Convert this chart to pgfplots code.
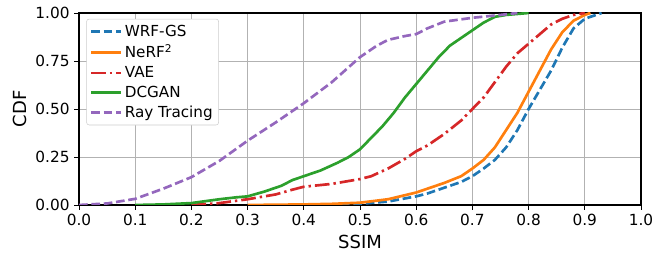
\documentclass[border=0pt]{standalone}
\usepackage{fontspec}
\setmainfont{DejaVu Sans}
\usepackage{pgfplots}
\pgfplotsset{compat=1.18}
\definecolor{tblue}{HTML}{1F77B4}
\definecolor{torange}{HTML}{FF7F0E}
\definecolor{tred}{HTML}{D62728}
\definecolor{tgreen}{HTML}{2CA02C}
\definecolor{tpurple}{HTML}{9467BD}
\pgfplotsset{every axis plot post/.append style={line width=2pt}}
\begin{document}
\begin{tikzpicture}
\begin{axis}[
  scale only axis, width=421.5pt, height=144pt,
  xmin=0, xmax=1, ymin=0, ymax=1,
  xtick={0,0.1,...,1.0}, ytick={0,0.25,0.5,0.75,1},
  xticklabel style={/pgf/number format/.cd, fixed, fixed zerofill, precision=1},
  yticklabel style={/pgf/number format/.cd, fixed, fixed zerofill, precision=2},
  /pgf/number format/assume math mode=true,
  tick label style={font=\fontsize{11.5}{13}\selectfont},
  label style={font=\fontsize{13.5}{15}\selectfont},
  xlabel={SSIM}, ylabel={CDF},
  tick align=outside, xtick pos=left, ytick pos=left,
  major tick length=3.5pt,
  every tick/.style={black, line width=0.6pt},
  axis line style={black, line width=0.8pt},
  grid=major, grid style={color=black!30, line width=0.6pt},
  legend style={at={(rel axis cs:0.013,0.97)}, anchor=north west, draw=black!20, rounded corners=2pt, font=\fontsize{11.4}{13}\selectfont, row sep=0.8pt, inner sep=2.5pt, fill=white},
  legend cell align=left,
  legend image code/.code={\draw[#1, line width=2pt] (0cm,0cm) -- (0.78cm,0cm);},
]
\addplot[draw=tblue, dash pattern=on 6.5pt off 2.8pt] coordinates {
(0.40,0) (0.45,0.002) (0.5,0.006) (0.55,0.018) (0.6,0.045) (0.62,0.06) (0.65,0.09) (0.68,0.12) (0.7,0.15) (0.72,0.19) (0.74,0.235) (0.76,0.30) (0.78,0.39) (0.8,0.50) (0.82,0.60) (0.84,0.70) (0.86,0.82) (0.88,0.92) (0.90,0.97) (0.92,0.99) (0.93,1.0)};
\addlegendentry{WRF-GS}
\addplot[draw=torange] coordinates {
(0.3,0) (0.4,0.003) (0.45,0.006) (0.5,0.012) (0.55,0.03) (0.6,0.065) (0.62,0.085) (0.65,0.115) (0.68,0.15) (0.7,0.19) (0.72,0.235) (0.74,0.3) (0.76,0.39) (0.78,0.48) (0.8,0.59) (0.82,0.70) (0.84,0.81) (0.86,0.9) (0.88,0.96) (0.9,0.99) (0.91,1.0)};
\addlegendentry{NeRF\textsuperscript{2}}
\addplot[draw=tred, dash pattern=on 11pt off 3pt on 1.8pt off 3pt] coordinates {
(0.2,0) (0.25,0.01) (0.3,0.03) (0.35,0.055) (0.38,0.08) (0.4,0.095) (0.45,0.11) (0.5,0.135) (0.52,0.15) (0.55,0.19) (0.58,0.24) (0.6,0.28) (0.62,0.31) (0.65,0.37) (0.68,0.44) (0.7,0.5) (0.72,0.56) (0.74,0.64) (0.76,0.72) (0.78,0.79) (0.8,0.84) (0.82,0.89) (0.84,0.94) (0.86,0.97) (0.88,0.99) (0.9,1.0)};
\addlegendentry{VAE}
\addplot[draw=tgreen] coordinates {
(0.1,0) (0.15,0.003) (0.2,0.01) (0.25,0.03) (0.28,0.04) (0.3,0.045) (0.33,0.07) (0.36,0.1) (0.38,0.13) (0.4,0.15) (0.43,0.18) (0.46,0.22) (0.48,0.25) (0.5,0.29) (0.52,0.35) (0.54,0.41) (0.56,0.48) (0.58,0.56) (0.6,0.63) (0.62,0.70) (0.64,0.77) (0.66,0.83) (0.68,0.87) (0.7,0.91) (0.72,0.95) (0.74,0.98) (0.76,0.99) (0.8,1.0)};
\addlegendentry{DCGAN}
\addplot[draw=tpurple, dash pattern=on 6.5pt off 2.8pt] coordinates {
(0,0) (0.05,0.008) (0.1,0.032) (0.15,0.085) (0.2,0.145) (0.25,0.23) (0.3,0.335) (0.35,0.43) (0.4,0.53) (0.45,0.64) (0.5,0.77) (0.53,0.83) (0.55,0.86) (0.58,0.88) (0.6,0.89) (0.62,0.92) (0.65,0.955) (0.7,0.975) (0.75,0.99) (0.78,1.0)};
\addlegendentry{Ray Tracing}
\coordinate (bl) at (rel axis cs:0,0);
\coordinate (tr) at (rel axis cs:1,1);
\end{axis}
\path[use as bounding box] ([xshift=-59.25pt,yshift=-36pt]bl) rectangle ([xshift=23.25pt,yshift=9.75pt]tr);
\end{tikzpicture}
\end{document}
